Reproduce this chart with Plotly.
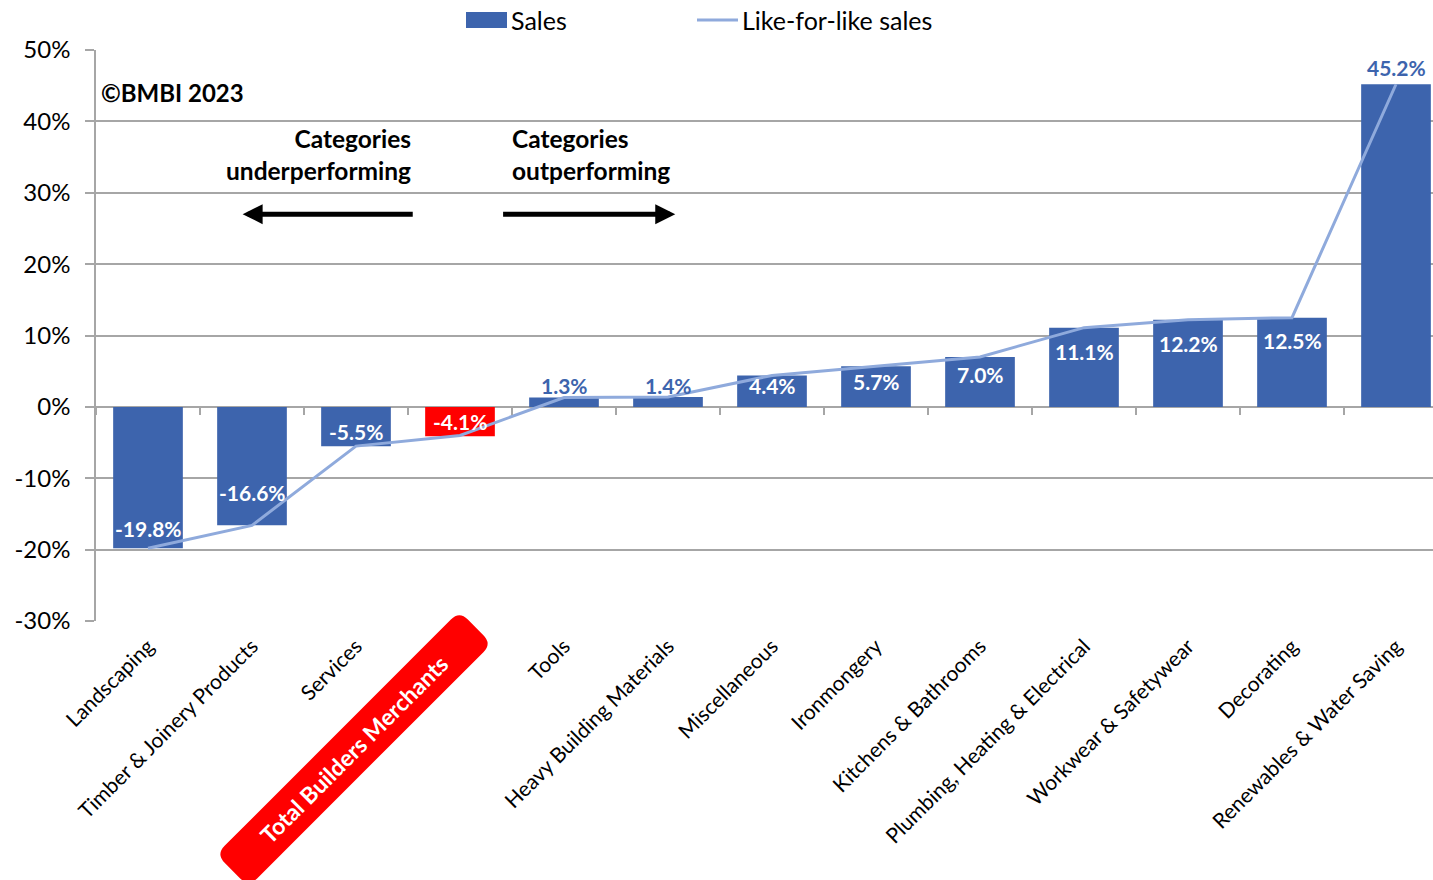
import math
import plotly.graph_objects as go

# Product categories, ordered by sales growth
categories = [
    "Landscaping", "Timber & Joinery Products", "Services", "Total Builders Merchants",
    "Tools", "Heavy Building Materials", "Miscellaneous", "Ironmongery",
    "Kitchens & Bathrooms", "Plumbing, Heating & Electrical", "Workwear & Safetywear",
    "Decorating", "Renewables & Water Saving",
]
sales = [-19.8, -16.6, -5.5, -4.1, 1.3, 1.4, 4.4, 5.7, 7.0, 11.1, 12.2, 12.5, 45.2]
lfl_sales = [-19.8, -16.6, -5.5, -4.0, 1.3, 1.4, 4.4, 5.7, 7.0, 11.1, 12.2, 12.5, 45.2]
y_ticks = [-30, -20, -10, 0, 10, 20, 30, 40, 50]
y_tick_text = ["%d%%" % v for v in y_ticks]

# Value-label placement: pixel shift from the bar end (positive = up),
# and whether the label sits outside the bar
label_shift = [20, 33, 15, 15, 12, 11, -10, -15, -18, -24, -24, -23, 17]
label_outside = [False, False, False, False, True, True, False, False, False,
                 False, False, False, True]

TOTAL = "Total Builders Merchants"
BLUE = "#3D64AD"
LINE = "#8FAADC"
RED = "#FF0000"
GRID = "#A6A6A6"
FONT = "Lato"

W, H = 1433, 880
ML, MR, MT, MB = 96, 0, 50, 259
PW, PH = W - ML - MR, H - MT - MB
CAT_PX = 104.0                      # width of one category slot in pixels
x_range = [-0.5, -0.5 + PW / CAT_PX]  # the last slot runs past the right edge
y_range = [y_ticks[0], y_ticks[-1]]

bar_colors = [RED if c == TOTAL else BLUE for c in categories]

fig = go.Figure()
fig.add_trace(go.Bar(
    x=categories, y=sales, name="Sales",
    marker=dict(color=bar_colors, line=dict(width=0)),
    hoverinfo="skip",
))
fig.add_trace(go.Scatter(
    x=categories, y=lfl_sales, name="Like-for-like sales", mode="lines",
    line=dict(color=LINE, width=3), xaxis="x2", hoverinfo="skip",
))

# Bar value labels
for cat, val, shift, out in zip(categories, sales, label_shift, label_outside):
    fig.add_annotation(x=cat, y=val, xref="x", yref="y", yshift=shift,
                       text="<b>%.1f%%</b>" % val, showarrow=False,
                       xanchor="center", yanchor="middle",
                       font=dict(family=FONT, size=21, color=BLUE if out else "white"))

tick_text = ["" if c == TOTAL else c for c in categories]

fig.update_layout(
    width=W, height=H,
    margin=dict(l=ML, r=MR, t=MT, b=MB),
    paper_bgcolor="white", plot_bgcolor="white",
    font=dict(family=FONT, color="black"),
    bargap=0.33,
    showlegend=False,
    xaxis=dict(
        type="category", categoryorder="array", categoryarray=categories,
        range=x_range,
        tickmode="array", tickvals=categories, ticktext=tick_text,
        tickangle=-45, tickfont=dict(family=FONT, size=21, color="black"),
        ticklabelstandoff=8,
        showgrid=False, zeroline=False, showline=False, ticks="",
    ),
    xaxis2=dict(
        type="category", categoryorder="array", categoryarray=categories,
        range=x_range,
        overlaying="x", anchor="free",
        position=(0 - y_range[0]) / (y_range[1] - y_range[0]),
        tickson="boundaries", ticks="outside", ticklen=7, tickwidth=1.5,
        tickcolor=GRID, showticklabels=False, showgrid=False,
        zeroline=False, showline=False,
    ),
    yaxis=dict(
        range=y_range, tickmode="array", tickvals=y_ticks, ticktext=y_tick_text,
        tickfont=dict(family=FONT, size=24, color="black"),
        ticklabelstandoff=10,
        showgrid=True, gridcolor=GRID, gridwidth=1.5,
        zeroline=True, zerolinecolor=GRID, zerolinewidth=1.5,
        showline=True, linecolor=GRID, linewidth=1.5,
        ticks="outside", ticklen=9, tickcolor=GRID, tickwidth=1.5,
    ),
)


def px_to_paper(px, py):
    return (px - ML) / PW, (MT + PH - py) / PH


# Legend drawn above the plot: swatch + label pairs
legend_y = 20
sx0, sy0 = px_to_paper(466, legend_y - 8)
sx1, sy1 = px_to_paper(507, legend_y + 8)
fig.add_shape(type="rect", xref="paper", yref="paper", x0=sx0, y0=sy0, x1=sx1, y1=sy1,
              fillcolor=BLUE, line=dict(width=0))
lx0, ly = px_to_paper(697, legend_y)
lx1, _ = px_to_paper(738, legend_y)
fig.add_shape(type="line", xref="paper", yref="paper", x0=lx0, y0=ly, x1=lx1, y1=ly,
              line=dict(color=LINE, width=3))
for left_px, label in [(509, fig.data[0].name), (740, fig.data[1].name)]:
    tx, ty = px_to_paper(left_px, legend_y)
    fig.add_annotation(x=tx, y=ty, xref="paper", yref="paper", text=label,
                       showarrow=False, xanchor="left", yanchor="middle",
                       font=dict(family=FONT, size=25, color="black"))

# Annotations: copyright and performance arrows
fig.add_annotation(x=-0.47, y=44.1, xref="x", yref="y", text="<b>©BMBI 2023</b>",
                   showarrow=False, xanchor="left", yanchor="middle",
                   font=dict(family=FONT, size=24, color="black"))
fig.add_annotation(x=2.55, y=35.4, xref="x", yref="y",
                   text="<b>Categories</b><br><b>underperforming</b>",
                   showarrow=False, xanchor="right", yanchor="middle", align="right",
                   font=dict(family=FONT, size=24.5, color="black"))
fig.add_annotation(x=3.48, y=35.4, xref="x", yref="y",
                   text="<b>Categories</b><br><b>outperforming</b>",
                   showarrow=False, xanchor="left", yanchor="middle", align="left",
                   font=dict(family=FONT, size=24.5, color="black"))
fig.add_annotation(x=0.91, y=27, ax=2.56, ay=27, xref="x", yref="y", axref="x", ayref="y",
                   text="", showarrow=True, arrowhead=2, arrowsize=0.8, arrowwidth=5,
                   arrowcolor="black")
fig.add_annotation(x=5.07, y=27, ax=3.40, ay=27, xref="x", yref="y", axref="x", ayref="y",
                   text="", showarrow=True, arrowhead=2, arrowsize=0.8, arrowwidth=5,
                   arrowcolor="black")

# Highlighted tick label for the total: a rotated rounded red badge
idx = categories.index(TOTAL)
cx_px = ML + (idx + 0.5) * CAT_PX - 106
cy_px = MT + PH + 128
half_len, half_w, rad = 172, 23, 12
ang = math.radians(-45)
ca, sa = math.cos(ang), math.sin(ang)


def badge_to_paper(u, v):
    # u runs along the badge, v across it
    return px_to_paper(cx_px + u * ca - v * sa, cy_px + u * sa + v * ca)


L, Wd, R = half_len, half_w, rad
segments = [
    ("M", [(-L + R, -Wd)]),
    ("L", [(L - R, -Wd)]), ("Q", [(L, -Wd), (L, -Wd + R)]),
    ("L", [(L, Wd - R)]), ("Q", [(L, Wd), (L - R, Wd)]),
    ("L", [(-L + R, Wd)]), ("Q", [(-L, Wd), (-L, Wd - R)]),
    ("L", [(-L, -Wd + R)]), ("Q", [(-L, -Wd), (-L + R, -Wd)]),
]
path = ""
for cmd, coords in segments:
    path += cmd + " " + " ".join("%.5f,%.5f" % badge_to_paper(u, v) for u, v in coords) + " "
path += "Z"
fig.add_shape(type="path", path=path, xref="paper", yref="paper",
              fillcolor=RED, line=dict(width=0), layer="above")
bx, by = badge_to_paper(0, 0)
fig.add_annotation(x=bx, y=by, xref="paper", yref="paper", text="<b>" + TOTAL + "</b>",
                   showarrow=False, textangle=-45, xanchor="center", yanchor="middle",
                   font=dict(family=FONT, size=23, color="white"))

fig.write_html("out.html")
